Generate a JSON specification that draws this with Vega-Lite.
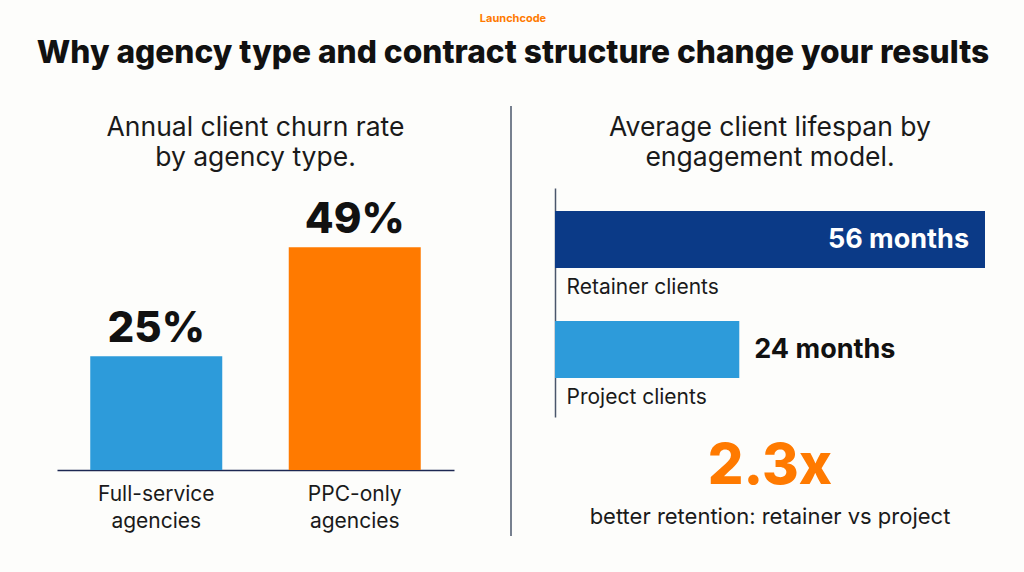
{
  "$schema": "https://vega.github.io/schema/vega-lite/v6.json",
  "background": "#fdfdfb",
  "padding": {"left": 36, "top": 12, "right": 41, "bottom": 14},
  "config": {"view": {"stroke": null}, "font": "Inter", "axis": {"grid": false}},
  "title": {
    "text": "Launchcode",
    "subtitle": "Why agency type and contract structure change your results",
    "anchor": "middle",
    "dx": -8,
    "offset": 36,
    "font": "Inter",
    "fontSize": 11,
    "fontWeight": 700,
    "color": "#ff7a00",
    "subtitleFont": "Inter",
    "subtitleFontSize": 31.7,
    "subtitleFontWeight": 800,
    "subtitleColor": "#111111",
    "subtitlePadding": 13.6
  },
  "datasets": {
    "churn": [
      {"agency": "Full-service agencies", "churn": 0.25},
      {"agency": "PPC-only agencies", "churn": 0.49}
    ],
    "lifespan": [
      {"model": "Retainer clients", "months": 56, "label": "56 months"},
      {"model": "Project clients", "months": 24, "label": "24 months"}
    ],
    "leftTitle": [
      {"line": 1, "text": "Annual client churn rate"},
      {"line": 2, "text": "by agency type."}
    ],
    "rightTitle": [
      {"line": 1, "text": "Average client lifespan by"},
      {"line": 2, "text": "engagement model."}
    ],
    "callout": [
      {"line": 1, "text": "2.3x"},
      {"line": 2, "text": "better retention: retainer vs project"}
    ]
  },
  "resolve": {"scale": {"color": "independent"}},
  "spacing": 43,
  "hconcat": [
    {
      "spacing": 8,
      "vconcat": [
        {
          "width": 397,
          "height": 74,
          "data": {"name": "leftTitle"},
          "mark": {"type": "text", "fontSize": 26.5, "fontWeight": 400, "color": "#1a1a1a", "baseline": "middle"},
          "encoding": {
            "y": {"field": "line", "type": "ordinal", "scale": {"type": "point", "padding": 0.733}, "axis": null},
            "text": {"field": "text"}
          }
        },
        {
          "width": 397,
          "height": 282,
          "data": {"name": "churn"},
          "encoding": {
            "x": {
              "field": "agency",
              "type": "nominal",
              "sort": null,
              "scale": {"paddingInner": 0.335, "paddingOuter": 0.1675},
              "axis": {
                "title": null,
                "labelAngle": 0,
                "labelExpr": "split(datum.label, ' ')",
                "labelFontSize": 21,
                "labelLineHeight": 27,
                "labelColor": "#1a1a1a",
                "labelPadding": 13,
                "ticks": false,
                "tickSize": 0,
                "domainColor": "#1d2852",
                "domainWidth": 1.5
              }
            },
            "y": {"field": "churn", "type": "quantitative", "scale": {"domain": [0, 0.62], "nice": false}, "axis": null}
          },
          "layer": [
            {
              "mark": {"type": "bar"},
              "encoding": {
                "color": {"field": "agency", "type": "nominal", "sort": null, "scale": {"range": ["#2d9bda", "#ff7a00"]}, "legend": null}
              }
            },
            {
              "mark": {"type": "text", "fontSize": 42, "fontWeight": 800, "color": "#111111", "baseline": "alphabetic", "dy": -14},
              "encoding": {"text": {"field": "churn", "type": "quantitative", "format": ".0%"}}
            }
          ]
        }
      ]
    },
    {
      "width": 14,
      "height": 430,
      "data": {"values": [{"divider": 1}]},
      "mark": {"type": "rule", "color": "#4a566b", "strokeWidth": 1.5},
      "encoding": {"x": {"value": "width"}}
    },
    {
      "spacing": 8,
      "vconcat": [
        {
          "width": 430,
          "height": 74,
          "data": {"name": "rightTitle"},
          "mark": {"type": "text", "fontSize": 26.5, "fontWeight": 400, "color": "#1a1a1a", "baseline": "middle"},
          "encoding": {
            "y": {"field": "line", "type": "ordinal", "scale": {"type": "point", "padding": 0.733}, "axis": null},
            "text": {"field": "text"}
          }
        },
        {
          "width": 430,
          "height": 229,
          "data": {"name": "lifespan"},
          "encoding": {
            "y": {
              "field": "model",
              "type": "nominal",
              "sort": null,
              "scale": {"paddingInner": 0.0636, "paddingOuter": 0.0727, "align": 0},
              "axis": {
                "title": null,
                "ticks": false,
                "tickSize": 0,
                "labelAlign": "left",
                "labelBaseline": "middle",
                "labelPadding": -11,
                "labelOffset": 48.5,
                "labelFontSize": 21,
                "labelColor": "#1a1a1a",
                "domainColor": "#4a566b",
                "domainWidth": 1.5
              }
            },
            "x": {"field": "months", "type": "quantitative", "scale": {"domain": [0, 56], "nice": false}, "axis": null}
          },
          "layer": [
            {
              "mark": {"type": "bar", "height": {"band": 0.553}},
              "encoding": {
                "color": {"field": "model", "type": "nominal", "sort": null, "scale": {"range": ["#0b3a87", "#2d9bda"]}, "legend": null}
              }
            },
            {
              "transform": [{"filter": "datum.model === 'Retainer clients'"}],
              "mark": {"type": "text", "align": "right", "baseline": "middle", "dx": -16, "fontSize": 27, "fontWeight": 700, "color": "#ffffff"},
              "encoding": {"text": {"field": "label"}}
            },
            {
              "transform": [{"filter": "datum.model === 'Project clients'"}],
              "mark": {"type": "text", "align": "left", "baseline": "middle", "dx": 15, "fontSize": 27, "fontWeight": 700, "color": "#111111"},
              "encoding": {"text": {"field": "label"}}
            }
          ]
        },
        {
          "width": 430,
          "height": 134,
          "data": {"name": "callout"},
          "encoding": {
            "y": {"field": "line", "type": "ordinal", "scale": {"type": "point", "padding": 0.822}, "axis": null},
            "text": {"field": "text"}
          },
          "layer": [
            {
              "transform": [{"filter": "datum.line === 1"}],
              "mark": {"type": "text", "fontSize": 56, "fontWeight": 800, "color": "#ff7a00", "baseline": "middle"}
            },
            {
              "transform": [{"filter": "datum.line === 2"}],
              "mark": {"type": "text", "fontSize": 22, "fontWeight": 400, "color": "#1a1a1a", "baseline": "middle"}
            }
          ]
        }
      ]
    }
  ]
}
